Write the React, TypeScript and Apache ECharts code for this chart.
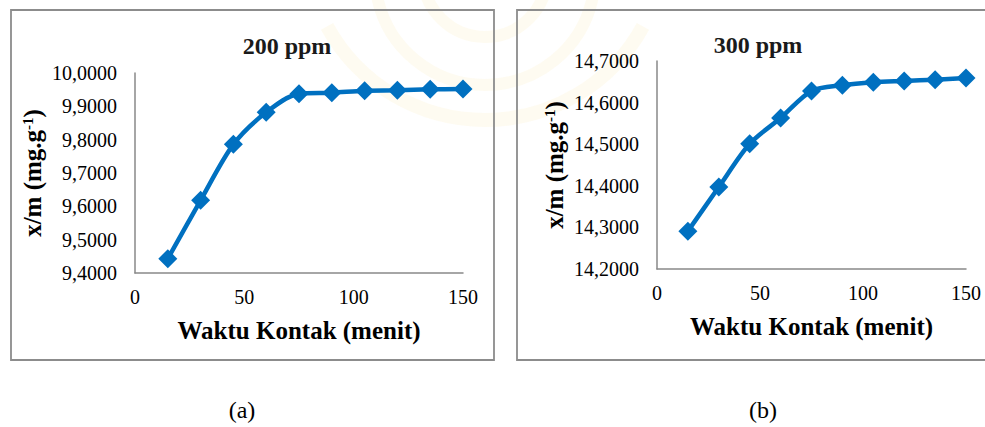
import React, { useEffect, useRef } from "react";
import * as echarts from "echarts";

const times = [15, 30, 45, 60, 75, 90, 105, 120, 135, 150];
const values200 = [9.443, 9.618, 9.786, 9.882, 9.938, 9.941, 9.947, 9.948, 9.951, 9.952];
const values300 = [14.291, 14.397, 14.501, 14.563, 14.628, 14.642, 14.649, 14.652, 14.655, 14.659];
const titles = ["200 ppm", "300 ppm"];
const captions = ["(a)", "(b)"];
const xName = "Waktu Kontak (menit)";

const SERIF = "Liberation Serif";
const BLUE = "#0070C0";
const AXIS_GRAY = "#898989";

function yAxisCfg(gridIndex: number, min: number, max: number) {
  return {
    type: "value",
    gridIndex,
    min,
    max,
    interval: 0.1,
    name: "x/m (mg.g{sup|-1})",
    nameLocation: "middle",
    nameRotate: 90,
    nameGap: 90,
    nameTextStyle: {
      fontFamily: SERIF,
      fontWeight: "bold",
      fontSize: 25,
      color: "#000",
      rich: {
        sup: {
          fontFamily: SERIF,
          fontWeight: "bold",
          fontSize: 15,
          color: "#000",
          verticalAlign: "top",
          lineHeight: 14,
          padding: [0, 0, 10, 0],
        },
      },
    },
    axisLine: { show: true, lineStyle: { color: AXIS_GRAY, width: 1.5 } },
    axisTick: { show: false },
    splitLine: { show: false },
    axisLabel: {
      fontFamily: SERIF,
      fontSize: 20,
      color: "#000",
      margin: 18,
      formatter: (v: number) => v.toFixed(4).replace(".", ","),
    },
  };
}

function xAxisCfg(gridIndex: number) {
  return {
    type: "value",
    gridIndex,
    min: 0,
    max: 150,
    interval: 50,
    name: xName,
    nameLocation: "middle",
    nameGap: 45,
    nameTextStyle: { fontFamily: SERIF, fontWeight: "bold", fontSize: 25, color: "#000" },
    axisLine: { show: true, onZero: false, lineStyle: { color: AXIS_GRAY, width: 1.5 } },
    axisTick: { show: false },
    splitLine: { show: false },
    axisLabel: { fontFamily: SERIF, fontSize: 20, color: "#000", margin: 14 },
  };
}

function seriesCfg(idx: number, vals: number[]) {
  return {
    type: "line",
    xAxisIndex: idx,
    yAxisIndex: idx,
    data: times.map((t, i) => [t, vals[i]]),
    smooth: 0.3,
    symbol: "diamond",
    symbolSize: 19,
    lineStyle: { color: BLUE, width: 4.5 },
    itemStyle: { color: BLUE },
    z: 3,
  };
}

export default function App() {
  const ref = useRef<HTMLDivElement>(null);
  useEffect(() => {
    if (!ref.current) return;
    const chart = echarts.init(ref.current, undefined, { renderer: "svg" });
    const wm = "rgba(250, 215, 120, 0.10)";
    chart.setOption({
      animation: false,
      backgroundColor: "#fff",
      grid: [
        { left: 135, top: 73, width: 328, height: 200 },
        { left: 657, top: 61, width: 309, height: 208 },
      ],
      xAxis: [xAxisCfg(0), xAxisCfg(1)],
      yAxis: [yAxisCfg(0, 9.4, 10.0), yAxisCfg(1, 14.2, 14.7)],
      series: [seriesCfg(0, values200), seriesCfg(1, values300)],
      graphic: [
        { type: "arc", z: -10, shape: { cx: 485, cy: -25, r: 62, startAngle: 0, endAngle: Math.PI }, style: { stroke: wm, lineWidth: 12, fill: "none" } },
        { type: "arc", z: -10, shape: { cx: 485, cy: -25, r: 110, startAngle: 0.2, endAngle: Math.PI - 0.2 }, style: { stroke: wm, lineWidth: 12, fill: "none" } },
        { type: "arc", z: -10, shape: { cx: 485, cy: -60, r: 180, startAngle: 0.5, endAngle: Math.PI - 0.5 }, style: { stroke: wm, lineWidth: 14, fill: "none" } },
        { type: "rect", z: -5, shape: { x: 11, y: 10, width: 483, height: 350 }, style: { fill: "none", stroke: "#8c8c8c", lineWidth: 1.8 } },
        { type: "rect", z: -5, shape: { x: 517, y: 10, width: 480, height: 350 }, style: { fill: "none", stroke: "#8c8c8c", lineWidth: 1.8 } },
        { type: "text", x: 287, y: 46, style: { text: titles[0], fontFamily: SERIF, fontWeight: "bold", fontSize: 24, fill: "#1a1a1a", textAlign: "center", textVerticalAlign: "middle" } },
        { type: "text", x: 758, y: 45, style: { text: titles[1], fontFamily: SERIF, fontWeight: "bold", fontSize: 24, fill: "#1a1a1a", textAlign: "center", textVerticalAlign: "middle" } },
        { type: "text", x: 242, y: 410, style: { text: captions[0], fontFamily: SERIF, fontSize: 24, fill: "#000", textAlign: "center", textVerticalAlign: "middle" } },
        { type: "text", x: 763, y: 410, style: { text: captions[1], fontFamily: SERIF, fontSize: 24, fill: "#000", textAlign: "center", textVerticalAlign: "middle" } },
      ],
    });
    return () => chart.dispose();
  }, []);
  return <div ref={ref} style={{ position: "absolute", left: 0, top: 0, width: 985, height: 427 }} />;
}
